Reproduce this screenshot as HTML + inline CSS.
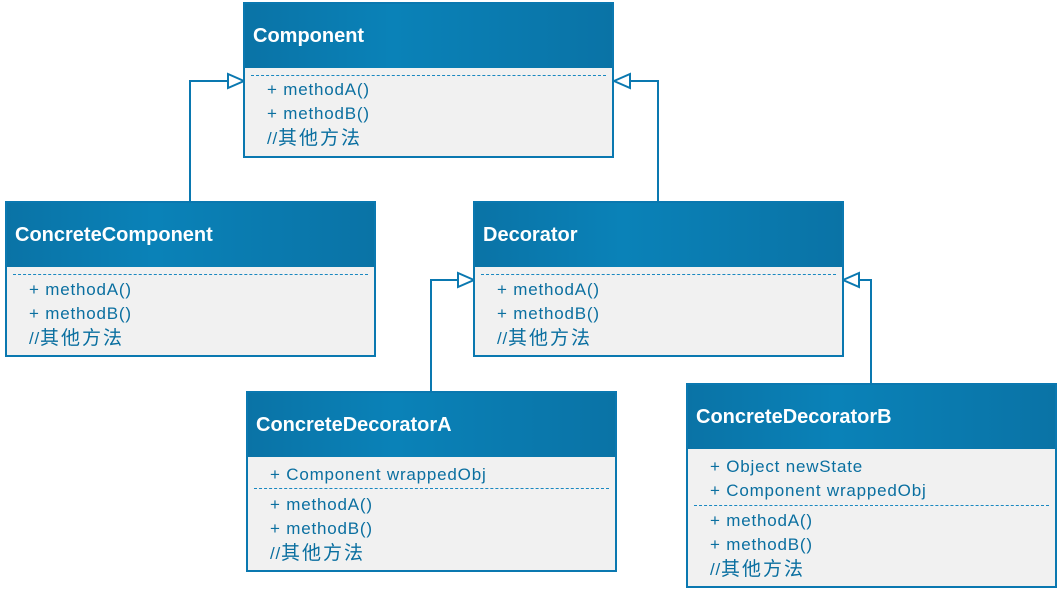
<!DOCTYPE html>
<html><head><meta charset="utf-8"><style>
body{margin:0;width:1058px;height:592px;background:#fff;position:relative;overflow:hidden;font-family:"Liberation Sans","Noto Sans CJK SC",sans-serif}
.box{position:absolute;border:2px solid #0a78b0;background:#f1f1f1;box-sizing:border-box}
.hd{position:absolute;left:0;right:0;top:0;background:linear-gradient(90deg,#0a73a6 0%,#0a82b8 40%,#0a73a6 100%);color:#fff;font-size:20px;font-weight:bold;padding-left:8px;box-sizing:border-box;display:flex;align-items:center}
.t{position:absolute;font-family:"Liberation Sans","Noto Sans CJK SC",sans-serif;font-size:17px;letter-spacing:0.8px;color:#0a6fa0;line-height:20px;white-space:nowrap}
.t span{font-size:19px;letter-spacing:2px}
.d{position:absolute;height:0;border-top:1px dashed #1a88c0}
</style></head><body>
<svg width="1058" height="592" style="position:absolute;left:0;top:0" >
<g fill="none" stroke="#0a78b0" stroke-width="2">
<polyline points="190,202 190,81 228,81"/>
<polygon points="244,81 228,74 228,88" fill="#fff"/>
<polyline points="658,202 658,81 630,81"/>
<polygon points="614,81 630,74 630,88" fill="#fff"/>
<polyline points="431,392 431,280 458,280"/>
<polygon points="474,280 458,273 458,287" fill="#fff"/>
<polyline points="871,384 871,280 859,280"/>
<polygon points="843,280 859,273 859,287" fill="#fff"/>
</g></svg>

<div class="box" style="left:243px;top:2px;width:371px;height:156px">
<div class="hd" style="height:64px">Component</div>
<div class="d" style="left:6px;right:6px;top:71px"></div>
<div class="t" style="left:22px;top:76px">+ methodA()</div>
<div class="t" style="left:22px;top:100px">+ methodB()</div>
<div class="t" style="left:22px;top:125px">//<span>其他方法</span></div>
</div>

<div class="box" style="left:5px;top:201px;width:371px;height:156px">
<div class="hd" style="height:64px">ConcreteComponent</div>
<div class="d" style="left:6px;right:6px;top:71px"></div>
<div class="t" style="left:22px;top:77px">+ methodA()</div>
<div class="t" style="left:22px;top:101px">+ methodB()</div>
<div class="t" style="left:22px;top:126px">//<span>其他方法</span></div>
</div>

<div class="box" style="left:473px;top:201px;width:371px;height:156px">
<div class="hd" style="height:64px">Decorator</div>
<div class="d" style="left:6px;right:6px;top:71px"></div>
<div class="t" style="left:22px;top:77px">+ methodA()</div>
<div class="t" style="left:22px;top:101px">+ methodB()</div>
<div class="t" style="left:22px;top:126px">//<span>其他方法</span></div>
</div>

<div class="box" style="left:246px;top:391px;width:371px;height:181px">
<div class="hd" style="height:64px">ConcreteDecoratorA</div>
<div class="t" style="left:22px;top:72px">+ Component wrappedObj</div>
<div class="d" style="left:6px;right:6px;top:95px"></div>
<div class="t" style="left:22px;top:102px">+ methodA()</div>
<div class="t" style="left:22px;top:126px">+ methodB()</div>
<div class="t" style="left:22px;top:151px">//<span>其他方法</span></div>
</div>

<div class="box" style="left:686px;top:383px;width:371px;height:205px">
<div class="hd" style="height:64px">ConcreteDecoratorB</div>
<div class="t" style="left:22px;top:72px">+ Object newState</div>
<div class="t" style="left:22px;top:96px">+ Component wrappedObj</div>
<div class="d" style="left:6px;right:6px;top:120px"></div>
<div class="t" style="left:22px;top:126px">+ methodA()</div>
<div class="t" style="left:22px;top:150px">+ methodB()</div>
<div class="t" style="left:22px;top:175px">//<span>其他方法</span></div>
</div>
</body></html>
